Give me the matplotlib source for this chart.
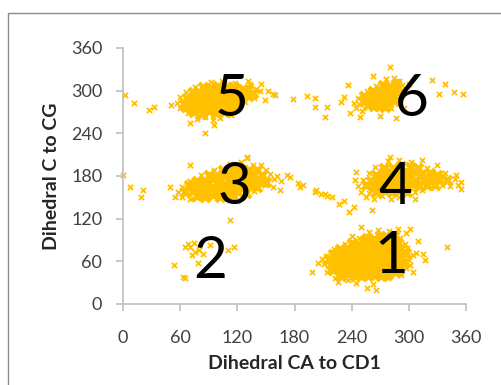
import matplotlib
matplotlib.use('Agg')
import matplotlib.pyplot as plt
from matplotlib.patches import Rectangle

# 数据：每个簇分为密集核心 (core) 与零散点 (out)
# x = CA-CD1 二面角, y = C-CG 二面角
c1_core_x = [229, 236, 243, 250, 257, 264, 271, 278, 285,
             220, 227, 234, 241, 248, 255, 262, 269, 276, 283, 290,
             218, 225, 232, 239, 246, 253, 260, 267, 274, 281, 288, 295,
             216, 223, 230, 237, 244, 251, 258, 265, 272, 279, 286, 293,
             220, 227, 234, 241, 248, 255, 262, 269, 276, 283, 290, 297,
             228, 235, 242, 249, 256, 263, 270, 277, 284, 291,
             240, 247, 254, 261, 268, 275, 282, 289,
             256, 263, 270, 277, 284]
c1_core_y = [40, 42, 39, 41, 40, 43, 40, 42, 45,
             48, 49, 46, 50, 46, 48, 46, 51, 47, 49, 48,
             56, 57, 54, 58, 55, 53, 57, 55, 58, 54, 56, 58,
             63, 64, 60, 63, 62, 65, 61, 64, 62, 65, 61, 64,
             70, 72, 69, 71, 68, 72, 70, 73, 69, 71, 70, 72,
             78, 76, 80, 77, 79, 76, 80, 78, 81, 77,
             86, 84, 88, 86, 89, 85, 88, 86,
             93, 92, 95, 94, 96]
c1_out_x = [222, 236, 250, 264, 278, 292, 214, 297, 211, 301, 209, 300,
            213, 304, 221, 298, 233, 296, 248, 291, 258, 268, 279, 289, 297,
            198, 205, 340, 317, 304, 256, 266, 310, 308, 262, 245, 226, 250,
            301, 240, 315]
c1_out_y = [36, 34, 37, 38, 36, 41, 45, 50, 56, 55, 63, 62,
            68, 69, 77, 79, 85, 84, 93, 93, 101, 104, 102, 105, 100,
            45, 58, 80, 62, 45, 22, 20, 88, 72, 28, 30, 31, 108,
            106, 96, 70]

c2_core_x = []
c2_core_y = []
c2_out_x = [112, 68, 74, 72, 80, 79, 54, 65, 91, 110, 117, 70, 65, 63, 76, 84]
c2_out_y = [118, 85, 86, 69, 76, 57, 55, 36, 83, 76, 80, 80, 80, 38, 73, 70]

c3_core_x = [78, 86, 94, 102, 110,
             65, 73, 81, 89, 97, 105, 113, 121, 129,
             69, 77, 85, 93, 101, 109, 117, 125, 133, 141,
             78, 86, 94, 102, 110, 118, 126, 134, 142, 150,
             90, 98, 106, 114, 122, 130, 138, 146,
             105, 114, 123, 132, 141]
c3_core_y = [152, 150, 153, 150, 152,
             158, 159, 155, 158, 156, 159, 155, 158, 156,
             167, 164, 168, 165, 167, 164, 168, 165, 167, 164,
             173, 172, 176, 173, 175, 172, 176, 173, 175, 172,
             182, 180, 184, 181, 183, 180, 183, 181,
             189, 188, 190, 189, 188]
c3_out_x = [62, 70, 118, 58, 137, 62, 149, 157, 70, 158, 166,
            82, 154, 162, 172, 96, 150, 112, 124, 136, 130,
            0, 7, 21, 19, 49, 70, 130, 186, 175, 184, 189, 201, 208, 214,
            55, 165, 120, 145]
c3_out_y = [150, 147, 148, 158, 159, 165, 168, 165, 173, 176, 173,
            181, 183, 180, 182, 189, 188, 197, 199, 196, 205,
            181, 165, 160, 151, 165, 195, 207, 165, 179, 170, 168, 158, 155, 152,
            150, 160, 145, 195]

c4_core_x = [266, 274, 282, 290, 298,
             255, 263, 271, 279, 287, 295, 303, 311, 319, 327,
             260, 268, 276, 284, 292, 300, 308, 316, 324, 332, 340,
             266, 274, 282, 290, 298, 306, 314, 322, 330,
             274, 283, 292, 301, 310]
c4_core_y = [158, 160, 157, 159, 158,
             168, 165, 169, 166, 168, 165, 169, 166, 168, 167,
             173, 177, 174, 176, 173, 177, 174, 176, 173, 176, 174,
             182, 186, 183, 185, 182, 186, 183, 184, 182,
             191, 191, 194, 192, 191]
c4_out_x = [255, 263, 272, 281, 290, 250, 258, 306, 314, 247, 335, 343,
            252, 348, 355, 258, 338, 265, 319, 278, 290, 302, 314,
            203, 212, 219, 237, 242, 261, 243, 280, 306, 355, 350, 245, 227, 232,
            330, 352]
c4_out_y = [150, 147, 152, 148, 151, 158, 156, 157, 160, 166, 168, 166,
            175, 176, 172, 184, 184, 192, 191, 201, 203, 200, 202,
            160, 155, 151, 130, 137, 132, 174, 207, 148, 162, 182, 185, 140, 145,
            195, 168]

c5_core_x = [75, 83, 90, 98, 106,
             66, 73, 80, 87, 94, 101, 108, 115,
             64, 71, 78, 85, 92, 99, 106, 113, 120,
             67, 74, 81, 88, 95, 102, 109, 116, 123, 131,
             73, 80, 87, 94, 101, 108, 115, 122, 129, 136,
             84, 92, 100, 108, 117, 126]
c5_core_y = [270, 267, 271, 268, 270,
             277, 274, 278, 275, 277, 274, 278, 275,
             281, 285, 282, 284, 281, 285, 282, 284, 281,
             289, 292, 290, 293, 289, 292, 290, 293, 289, 292,
             298, 297, 301, 298, 300, 297, 301, 298, 300, 297,
             305, 304, 306, 305, 305, 303]
c5_out_x = [78, 86, 94, 102, 68, 113, 60, 122, 57, 128, 60, 138, 66, 144,
            76, 134, 92, 104, 118, 131,
            2, 12, 27, 33, 133, 140, 149, 157, 160, 152, 178, 193, 201, 201, 212, 214,
            86, 70, 95, 50, 145]
c5_out_y = [260, 263, 259, 262, 268, 266, 275, 277, 283, 284, 291, 290, 298, 299,
            305, 306, 312, 314, 311, 313,
            294, 282, 273, 277, 310, 303, 287, 296, 294, 300, 288, 293, 290, 277, 263, 277,
            240, 255, 252, 280, 310]

c6_core_x = [257, 263, 269, 275,
             254, 260, 266, 272, 278, 284,
             253, 259, 265, 271, 277, 283,
             262, 268, 274, 280, 286,
             273, 280, 287]
c6_core_y = [280, 278, 279, 277,
             285, 284, 286, 283, 287, 286,
             292, 290, 294, 291, 295, 292,
             300, 298, 302, 300, 303,
             308, 307, 309]
c6_out_x = [245, 251, 281, 242, 248, 290, 247, 289, 256, 292, 266, 293,
            276, 284, 290,
            229, 236, 238, 249, 280, 287, 324, 332, 338, 347, 357, 232, 270,
            300, 295, 262]
c6_out_y = [275, 272, 276, 283, 281, 288, 290, 296, 299, 301, 307, 308,
            316, 318, 314,
            284, 308, 268, 263, 333, 261, 315, 296, 310, 298, 296, 291, 265,
            310, 275, 320]

# 簇编号及其标注位置
cluster_ids = ['1', '2', '3', '4', '5', '6']
label_x = [281, 92, 117, 286, 114, 303]
label_y = [43, 36, 141, 141, 265, 265]

ticks = [0, 60, 120, 180, 240, 300, 360]

plt.rcParams['font.family'] = ['Lato', 'DejaVu Sans']

fig = plt.figure(figsize=(5.01, 3.85), dpi=100)
# 外框（图表区边框）
fig.patches.append(Rectangle((8 / 501, -0.05), 1.1, 1 - 13 / 385 + 0.05,
                             transform=fig.transFigure, fill=False,
                             edgecolor='#8c8c8c', linewidth=1.0))

ax = fig.add_axes([123 / 501, 81 / 385, 343 / 501, 256 / 385])

gold = '#FFC000'
cores = [(c1_core_x, c1_core_y), (c2_core_x, c2_core_y), (c3_core_x, c3_core_y),
         (c4_core_x, c4_core_y), (c5_core_x, c5_core_y), (c6_core_x, c6_core_y)]
outs = [(c1_out_x, c1_out_y), (c2_out_x, c2_out_y), (c3_out_x, c3_out_y),
        (c4_out_x, c4_out_y), (c5_out_x, c5_out_y), (c6_out_x, c6_out_y)]

# 核心区点很密，用粗的 x 标记把它们画成实心团块
for xs, ys in cores:
    ax.scatter(xs, ys, marker='x', s=42, linewidths=3.0,
               color=gold, clip_on=False, zorder=2)
for xs, ys in outs:
    ax.scatter(xs, ys, marker='x', s=14, linewidths=1.3,
               color=gold, clip_on=False, zorder=2)

for cid, lx, ly in zip(cluster_ids, label_x, label_y):
    ax.text(lx, ly, cid, fontsize=42, ha='center', va='baseline',
            color='black', zorder=3)

ax.set_xlim(0, 360)
ax.set_ylim(0, 360)
ax.set_xticks(ticks)
ax.set_yticks(ticks)
ax.tick_params(axis='both', labelsize=13, labelcolor='#404040',
               color='#bfbfbf', length=5, width=1.2)
ax.tick_params(axis='x', pad=14)
ax.tick_params(axis='y', pad=10)

for side in ['top', 'right']:
    ax.spines[side].set_visible(False)
for side in ['left', 'bottom']:
    ax.spines[side].set_color('#bfbfbf')
    ax.spines[side].set_linewidth(1.2)

ax.set_xlabel('Dihedral CA to CD1', fontsize=14, fontweight='bold',
              color='#262626', labelpad=6)
ax.set_ylabel('Dihedral C to CG', fontsize=14, fontweight='bold',
              color='#262626', labelpad=8)

fig.savefig('out.png', dpi=100)
